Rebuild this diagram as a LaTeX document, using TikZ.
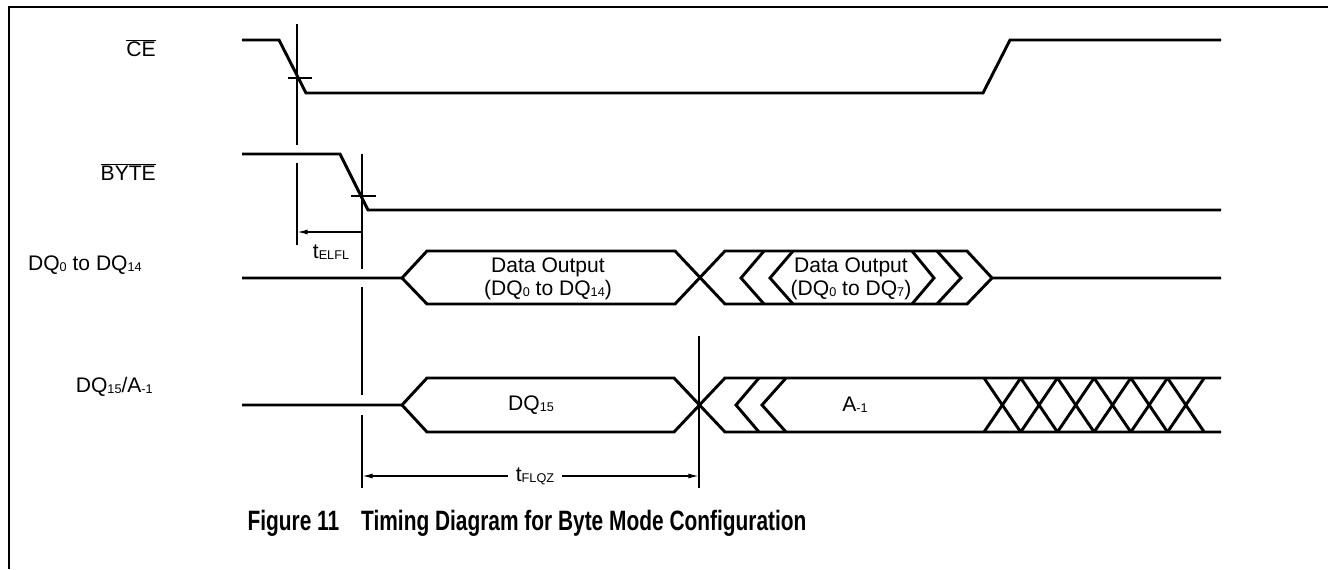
\documentclass[tikz,border=0pt]{standalone}
\usepackage{fontspec}
\setmainfont{Liberation Sans}
\usetikzlibrary{arrows.meta, positioning}

% small index text, as in DQ0 or tFLQZ
\newcommand{\idx}[1]{\raisebox{-0.1ex}{\fontsize{9.5}{10}\selectfont #1}}

\begin{document}
\begin{tikzpicture}[x=0.75pt, y=-0.75pt,   % pixel grid of the reference, y down
    every node/.style={inner sep=0pt, font=\fontsize{15.8}{17.3}\selectfont},
    sig/.style={line width=2.2pt},
    guide/.style={line width=1.4pt},
    dim/.style={line width=1.1pt, -{Latex[length=8pt,width=3.8pt]}},
    lbl/.style={anchor=east}
    ]

    \useasboundingbox (0,0) rectangle (1328,569);
    \draw[line width=1.4pt] (9,569) -- (9,7) -- (1328,7);

    % signal names
    \node[lbl] (ce)   at (156,48)  {$\overline{\mbox{CE}}$};
    \node[lbl] (byte) at (156,172) {$\overline{\mbox{BYTE}}$};
    \node[lbl] (dqlo) at (142,265) {DQ\idx{0} to DQ\idx{14}};
    \node[lbl] (dqhi) at (153,387) {DQ\idx{15}/A\idx{-1}};

    % CE and BYTE
    \draw[sig] (242,40) -- (279,40) -- (306,93) -- (983,93) -- (1010,40) -- (1221,40);
    \draw[sig] (242,154) -- (340,154) -- (368,210) -- (1221,210);

    % DQ0 to DQ14
    \draw[sig] (242,278) -- (402,278) -- (427,251) -- (675,251) -- (725,304) -- (967,304) -- (992,278) -- (1221,278);
    \draw[sig] (402,278) -- (427,304) -- (675,304) -- (725,251) -- (967,251) -- (992,278);
    \draw[sig] (764,251) -- (741,278) -- (764,304);
    \draw[sig] (793,251) -- (770,278) -- (793,304);
    \draw[sig] (912,251) -- (934,278) -- (912,304);
    \draw[sig] (937,251) -- (961,278) -- (937,304);
    \node[align=center] (dwide)  at (548,279) {Data Output\\(DQ\idx{0} to DQ\idx{14})};
    \node[align=center] (dnarrow) at (851,279) {Data Output\\(DQ\idx{0} to DQ\idx{7})};

    % DQ15/A-1
    \draw[sig] (242,405) -- (402,405) -- (427,378) -- (674,378) -- (725,432) -- (1221,432);
    \draw[sig] (402,405) -- (427,432) -- (674,432) -- (725,378) -- (1221,378);
    \draw[sig] (759,378) -- (736,405) -- (759,432);
    \draw[sig] (786,378) -- (762,405) -- (786,432);
    \foreach \i in {0,...,5} {
        \draw[sig] (984+36.7*\i,378) -- (1020.7+36.7*\i,432);
        \draw[sig] (984+36.7*\i,432) -- (1020.7+36.7*\i,378);
    }
    \node (dq15) at (531,405) {DQ\idx{15}};
    \node (am1)  at (855,405) {A\idx{-1}};

    % reference lines
    \draw[guide] (297,24) -- (297,145) (297,163) -- (297,245);
    \draw[guide] (288,78) -- (312,78);
    \draw[guide] (362,154) -- (362,269) (362,287) -- (362,395) (362,415) -- (362,488);
    \draw[guide] (351,196) -- (376,196);
    \draw[guide] (699,336) -- (699,488);

    % timings
    \coordinate (elA) at (297,232);
    \coordinate (elB) at (362,232);
    \draw[dim, {Latex[length=8pt,width=3.8pt]}-] (elA) -- (elB);
    \node (telfl) at (331,252) {t\idx{ELFL}};

    \coordinate (flA) at (362,476);
    \coordinate (flB) at (699,476);
    \node[inner xsep=6pt] (tflqz) at (535,476) {t\idx{FLQZ}};
    \draw[dim] (tflqz) -- (flA);
    \draw[dim] (tflqz) -- (flB);

    % caption
    \node[font=\bfseries\fontsize{21}{23}\selectfont] (caption) at (527,523)
        {\scalebox{0.746}[1]{Figure 11\hspace{22pt}Timing Diagram for Byte Mode Configuration}};

\end{tikzpicture}
\end{document}
